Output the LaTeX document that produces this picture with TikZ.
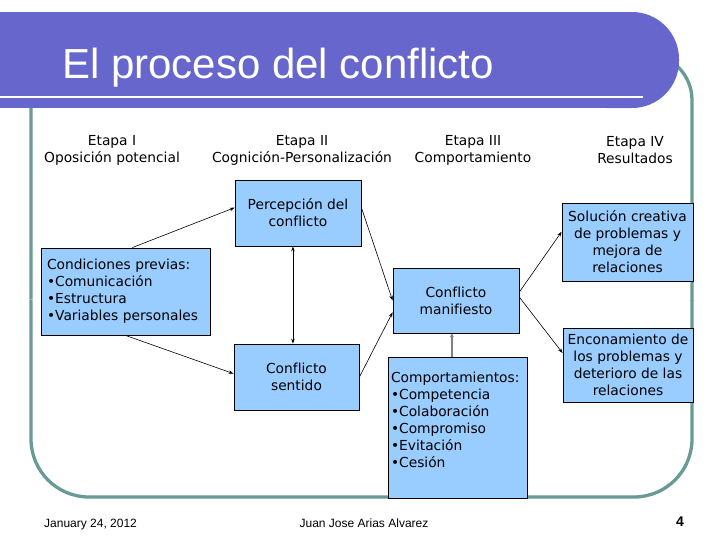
\documentclass[tikz,border=0pt]{standalone}
\usepackage{fontspec}
\setmainfont[Ligatures={NoCommon}]{DejaVu Sans}
\newfontfamily\arialf[Ligatures={NoCommon}]{Liberation Sans}
\usetikzlibrary{arrows.meta,calc}
\definecolor{bannerc}{RGB}{102,102,204}
\definecolor{framec}{RGB}{104,155,150}
\definecolor{boxblue}{RGB}{153,204,255}
\newcommand\mybody{\fontsize{13.8}{17}\selectfont}
\begin{document}
\begin{tikzpicture}[x=1pt,y=-1pt,
  box/.style={draw=black, line width=0.8pt, fill=boxblue, inner sep=0pt, font=\mybody, align=center},
  hdr/.style={font=\mybody, align=center, inner sep=0pt},
  conn/.style={line width=0.6pt, -{Stealth[length=5pt,width=3.5pt]}},
  frm/.style={framec, line width=3.3pt},
  foot/.style={font=\arialf\fontsize{12}{14}\selectfont, inner sep=0pt}]
\useasboundingbox (0,0) rectangle (728,546);
\fill[white] (0,0) rectangle (728,546);
% frame
\draw[frm, rounded corners=58pt] (31,300) -- (31,497) -- (692,497) -- (692,300);
\draw[frm, rounded corners=46pt] (692,300.5) -- (692,54) -- (31,54) -- (31,299.5);
% banner
\fill[bannerc] (0,12) rectangle (630,108);
\fill[bannerc, rounded corners=47pt] (560,12) rectangle (679,108);
\draw[white, line width=2.3pt] (0,97) -- (643,97);
\node[anchor=base west, inner sep=0pt, text=white, font=\arialf\fontsize{42}{48}\selectfont] (title) at (62,78) {El proceso del conflicto};
% headers
\node[hdr] (h1) at (112,150) {Etapa I\\Oposición potencial};
\node[hdr] (h2) at (302,150) {Etapa II\\Cognición-Personalización};
\node[hdr] (h3) at (473,150) {Etapa III\\Comportamiento};
\node[hdr] (h4) at (635,150) {Etapa IV\\Resultados};
% boxes
\node[box, minimum width=126pt, minimum height=66pt] (perc) at (298,213) {Percepción del\\conflicto};
\node[box, text width=157pt, inner xsep=6pt, minimum height=87pt, align=left] (cond) at (125.5,291.5) {Condiciones previas:\\•Comunicación\\•Estructura\\•Variables personales};
\node[box, minimum width=126pt, minimum height=65pt] (mani) at (456,300.5) {Conflicto\\manifiesto};
\node[box, minimum width=125pt, minimum height=66pt] (sent) at (296.5,377) {Conflicto\\sentido};
\node[box, minimum width=131pt, minimum height=78pt] (sol) at (627.5,242) {Solución creativa\\de problemas y\\mejora de\\relaciones};
\node[box, minimum width=130pt, minimum height=74pt] (enc) at (628,365) {Enconamiento de\\los problemas y\\deterioro de las\\relaciones};
\node[box, inner sep=3pt, align=left] (comp) at (457.5,427.5) {\begin{minipage}[t][135pt][t]{133pt}\raggedright\mybody
\rule{0pt}{22pt}Comportamientos:\\•Competencia\\•Colaboración\\•Compromiso\\•Evitación\\•Cesión\end{minipage}};
% connectors
\draw[conn] ($(cond.north west)!0.54!(cond.north east)$) -- ($(perc.north west)!0.42!(perc.south west)$);
\draw[conn] (cond.south) -- ($(sent.north west)!0.45!(sent.south west)$);
\draw[line width=0.6pt, {Stealth[length=5pt,width=3.5pt]}-{Stealth[length=5pt,width=3.5pt]}] ($(perc.south west)!0.46!(perc.south east)$) coordinate (pd) -- (pd |- sent.north);
\draw[conn] ($(perc.north east)!0.42!(perc.south east)$) -- (mani.west);
\draw[conn] (sent.east) -- ($(mani.north west)!0.68!(mani.south west)$);
\draw[conn] ($(mani.north east)!0.37!(mani.south east)$) -- ($(sol.north west)!0.37!(sol.south west)$);
\draw[conn] ($(mani.north east)!0.45!(mani.south east)$) -- ($(enc.north west)!0.34!(enc.south west)$);
\draw[gray, line width=1.8pt, -{Stealth[length=4pt,width=4pt]}] ($(comp.north west)!0.46!(comp.north east)$) coordinate (cu) -- (cu |- mani.south);
% footer
\node[foot, anchor=base west] (date) at (44,527) {January 24, 2012};
\node[foot, anchor=base] (author) at (364,527) {Juan Jose Arias Alvarez};
\node[inner sep=0pt, anchor=base, font=\arialf\bfseries\fontsize{14}{16}\selectfont] (pg) at (680,526) {4};
\end{tikzpicture}
\end{document}
